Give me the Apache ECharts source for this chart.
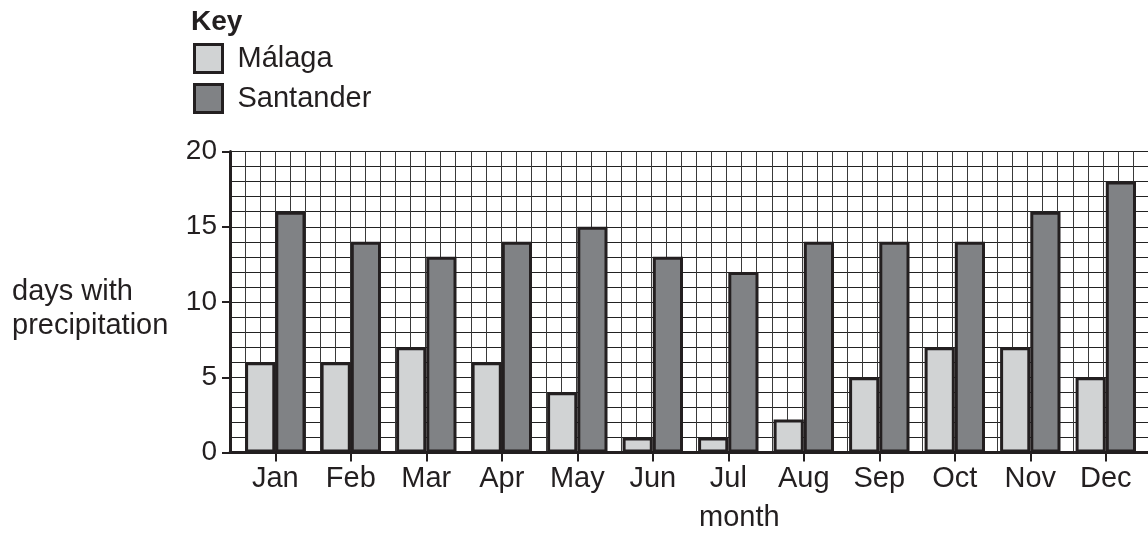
<!DOCTYPE html>
<html>
<head>
<meta charset="utf-8">
<script src="https://cdn.jsdelivr.net/npm/echarts@6/dist/echarts.min.js"></script>
<style>
html,body{margin:0;padding:0;background:#fff;}
#chart{width:1148px;height:536px;}
</style>
</head>
<body>
<div id="chart"></div>
<script>
const months = ['Jan','Feb','Mar','Apr','May','Jun','Jul','Aug','Sep','Oct','Nov','Dec'];
const malaga = [6, 6, 7, 6, 4, 1, 1, 2.2, 5, 7, 7, 5];
const santander = [16, 14, 13, 14, 15, 13, 12, 14, 14, 14, 16, 18];
const seriesNames = ['Málaga', 'Santander'];
const yMin = 0, yMax = 20, yStep = 5;

const INK = '#231f20';
const FONT = '"Liberation Sans", Arial, Helvetica, sans-serif';
const CELL = 15.1;           // one grid square, px
const PLOT_LEFT = 230;
const PLOT_TOP = 151.5;
const PLOT_H = 301;
const CELLS = 61;

const chart = echarts.init(document.getElementById('chart'), null, {renderer: 'canvas'});
chart.setOption({
  animation: false,
  backgroundColor: '#ffffff',
  textStyle: {fontFamily: FONT, color: INK},
  title: {
    text: 'Key', left: 191, top: 8, padding: 0,
    textStyle: {fontFamily: FONT, fontSize: 28, fontWeight: 'bold', color: INK}
  },
  legend: {
    data: seriesNames,
    orient: 'vertical',
    left: 193, top: 43, padding: 0,
    itemWidth: 28, itemHeight: 28, itemGap: 9,
    icon: 'rect',
    itemStyle: {borderColor: INK, borderWidth: 3},
    textStyle: {fontFamily: FONT, fontSize: 29, color: INK, padding: [0, 0, 0, 10]},
    selectedMode: false
  },
  grid: [
    {left: PLOT_LEFT, top: PLOT_TOP, width: CELL * CELLS, height: PLOT_H, containLabel: false},
    {left: PLOT_LEFT + CELL * 0.5, top: PLOT_TOP, width: CELL * 5 * months.length, height: PLOT_H, containLabel: false}
  ],
  xAxis: [
    {
      type: 'value', gridIndex: 0, min: 0, max: CELLS, interval: 1,
      axisLabel: {show: false}, axisTick: {show: false},
      axisLine: {show: true, onZero: false, lineStyle: {color: INK, width: 3}},
      splitLine: {show: true, lineStyle: {color: '#3a3a3a', width: 1}}
    },
    {
      type: 'category', gridIndex: 1, data: months, boundaryGap: true,
      axisLine: {show: false},
      axisTick: {show: true, alignWithLabel: true, length: 9, lineStyle: {color: INK, width: 2}},
      axisLabel: {fontFamily: FONT, fontSize: 29, color: INK, margin: 12},
      splitLine: {show: false}
    }
  ],
  yAxis: [
    {
      type: 'value', gridIndex: 0, min: yMin, max: yMax, interval: yStep,
      axisLine: {show: true, lineStyle: {color: INK, width: 3}},
      axisTick: {show: true, length: 8, lineStyle: {color: INK, width: 2}},
      axisLabel: {fontFamily: FONT, fontSize: 28, color: INK, margin: 13},
      splitLine: {show: true, lineStyle: {color: '#222', width: 1}},
      minorTick: {show: false, splitNumber: 5},
      minorSplitLine: {show: true, lineStyle: {color: '#222', width: 1}}
    },
    {
      type: 'value', gridIndex: 1, min: yMin, max: yMax, interval: yStep,
      show: false, splitLine: {show: false}
    }
  ],
  graphic: [
    {type: 'text', left: 12, top: 275, z: 10,
     style: {text: 'days with\nprecipitation', font: '29px ' + FONT, fill: INK, lineHeight: 34}},
    {type: 'text', left: 699, top: 503, z: 10,
     style: {text: 'month', font: '29px ' + FONT, fill: INK, textAlign: 'center'}}
  ],
  series: [
    {
      name: seriesNames[0], type: 'bar', xAxisIndex: 1, yAxisIndex: 1,
      data: malaga, barWidth: CELL * 2, barGap: '0%',
      itemStyle: {color: '#d1d3d4', borderColor: INK, borderWidth: 3}
    },
    {
      name: seriesNames[1], type: 'bar', xAxisIndex: 1, yAxisIndex: 1,
      data: santander, barWidth: CELL * 2, barGap: '0%',
      itemStyle: {color: '#808285', borderColor: INK, borderWidth: 3}
    }
  ]
});
</script>
</body>
</html>
